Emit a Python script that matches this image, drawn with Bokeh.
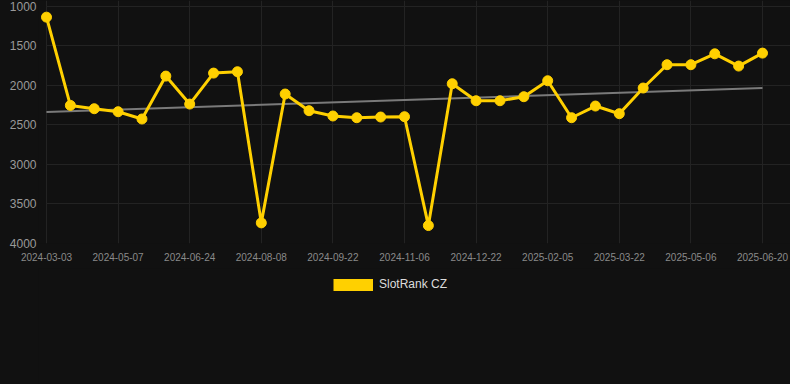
import numpy as np
from bokeh.plotting import figure
from bokeh.layouts import column
from bokeh.models import Range1d, FixedTicker, Legend, LegendItem, ColumnDataSource, Grid
from bokeh.embed import file_html
from bokeh.resources import INLINE

# ---- data ----
rank_values = [1135, 2252, 2294, 2332, 2424, 1881, 2235, 1843, 1826, 3739,
               2108, 2319, 2386, 2408, 2399, 2395, 3773, 1978, 2193, 2193,
               2142, 1940, 2408, 2260, 2357, 2032, 1737, 1737, 1599, 1754, 1590]
tick_labels = ["2024-03-03", "2024-05-07", "2024-06-24", "2024-08-08", "2024-09-22",
               "2024-11-06", "2024-12-22", "2025-02-05", "2025-03-22", "2025-05-06",
               "2025-06-20"]
y_ticks = [1000, 1500, 2000, 2500, 3000, 3500, 4000]
series_name = "SlotRank CZ"

x_idx = list(range(len(rank_values)))
tick_pos = x_idx[::3]

# linear trend of the series
coef = np.polyfit(x_idx, rank_values, 1)
trend_y = [float(np.polyval(coef, t)) for t in (x_idx[0], x_idx[-1])]

BG = "#111111"
YELLOW = "#ffd000"
GRID = "#232323"

step = 716 / 30.0
x_start = -8 / step
x_end = (len(rank_values) - 1) + 28 / step
y_top = 1000 - 6 / 0.0791

src = ColumnDataSource(dict(x=x_idx, y=rank_values))

# ---------------- main chart ----------------
p = figure(width=790, height=268, output_backend="svg", toolbar_location=None,
           x_range=Range1d(x_start, x_end), y_range=Range1d(4000, y_top),
           min_border_left=38, min_border_right=0, min_border_top=0,
           min_border_bottom=25)
p.background_fill_color = BG
p.border_fill_color = None
p.outline_line_color = None
p.styles = {"background-color": BG}

p.xaxis.ticker = FixedTicker(ticks=tick_pos)
p.xaxis.major_label_overrides = {pos: lab for pos, lab in zip(tick_pos, tick_labels)}
p.yaxis.ticker = FixedTicker(ticks=y_ticks)

p.axis.axis_line_color = None
p.axis.major_tick_line_color = None
p.axis.minor_tick_line_color = None
p.axis.major_tick_out = 0
p.axis.major_tick_in = 0
p.axis.major_label_text_font = "Liberation Sans"

p.xaxis.major_label_text_font_size = "10px"
p.xaxis.major_label_text_color = "#8a8a8a"
p.xaxis.major_label_standoff = 9
p.yaxis.major_label_text_font_size = "12px"
p.yaxis.major_label_text_color = "#9a9a9a"
p.yaxis.major_label_standoff = 2

p.xgrid.grid_line_color = GRID
p.ygrid.grid_line_color = GRID
if "cross_bounds" in Grid.properties():
    p.ygrid.cross_bounds = (0, x_end)

p.segment(x0=[x_idx[0]], y0=[trend_y[0]], x1=[x_idx[-1]], y1=[trend_y[1]],
          line_color="#7a7a7a", line_width=2)

p.line("x", "y", source=src, line_color=YELLOW, line_width=3)
p.scatter("x", "y", source=src, size=10, fill_color=YELLOW, line_color=YELLOW)

# ---------------- legend strip ----------------
LEG_H = 116
q = figure(width=790, height=LEG_H, output_backend="svg", toolbar_location=None,
           x_range=Range1d(0, 1), y_range=Range1d(0, 1),
           x_axis_type=None, y_axis_type=None,
           min_border_left=38, min_border_right=0, min_border_top=0, min_border_bottom=0)
q.background_fill_color = BG
q.border_fill_color = None
q.outline_line_color = None
q.grid.visible = False
q.styles = {"background-color": BG}

# series renderer for the legend key (its data lie outside this strip's ranges)
swatch = q.line("x", "y", source=src, line_color=YELLOW, line_width=12)

legend = Legend(items=[LegendItem(label=series_name, renderers=[swatch])],
                location=(333 - 38, LEG_H - 23.5), orientation="horizontal",
                glyph_width=40, glyph_height=15, label_height=15,
                label_standoff=6, padding=0, margin=0, spacing=0,
                border_line_color=None, background_fill_alpha=0,
                label_text_font="Liberation Sans", label_text_font_size="12px",
                label_text_color="#dddddd")
q.add_layout(legend, "center")

layout = column(p, q, spacing=0, styles={"background-color": BG})

open("out.html", "w").write(file_html(layout, INLINE))
